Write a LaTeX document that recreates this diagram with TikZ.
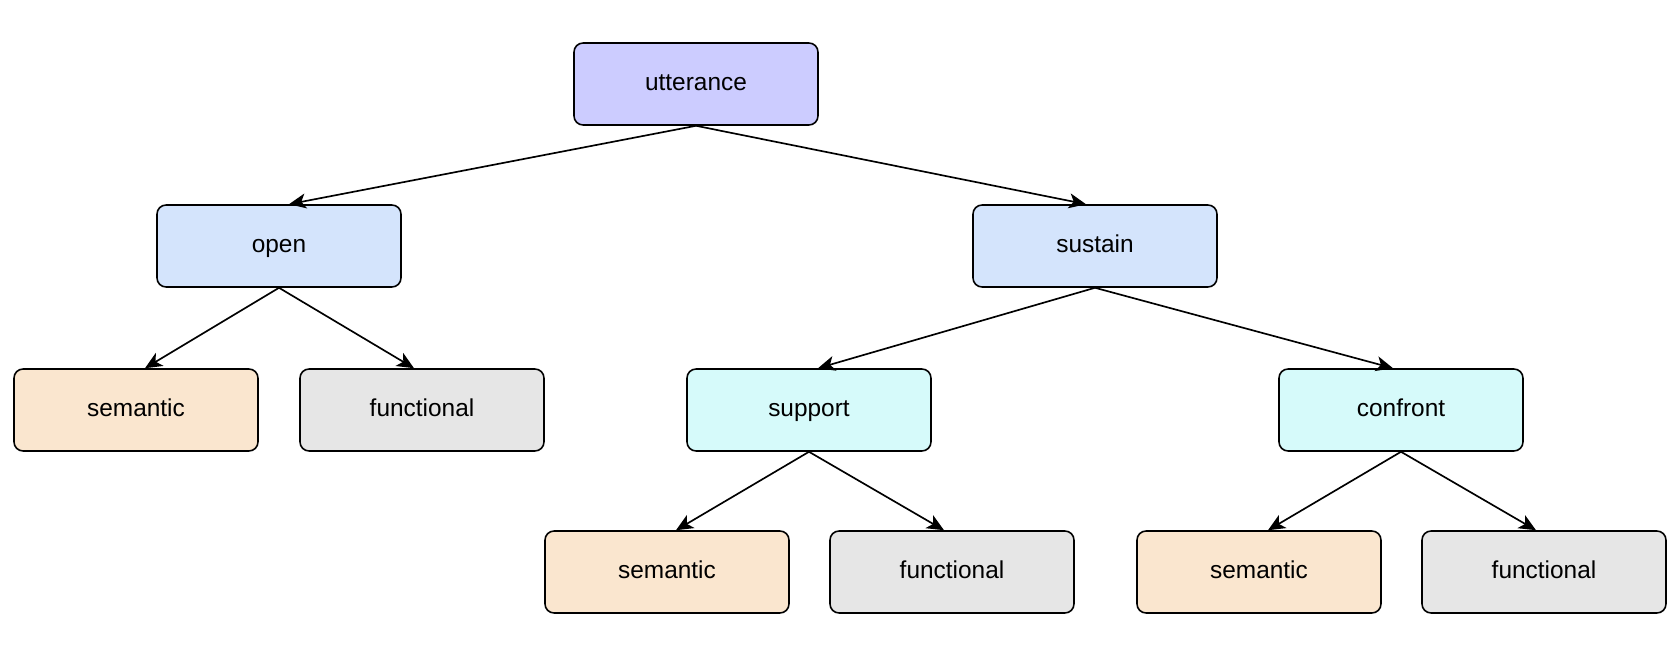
\documentclass[tikz,border=0pt]{standalone}
\usepackage{fontspec}
\setmainfont{Liberation Sans}
\usetikzlibrary{arrows.meta}
\definecolor{uttc}{HTML}{CCCCFF}
\definecolor{lvlone}{HTML}{D4E4FC}
\definecolor{lvltwo}{HTML}{D6FAFA}
\definecolor{semc}{HTML}{FAE6CF}
\definecolor{func}{HTML}{E6E6E6}
\tikzset{
  box/.style={draw=black, line width=0.9pt, rounded corners=0.18cm,
    minimum width=4.88cm, minimum height=1.64cm, inner sep=0pt,
    text height=0.96em, text depth=0.2em,
    font=\fontsize{13.9pt}{16pt}\selectfont, text=black},
  conn/.style={line width=0.95pt, -{Stealth[length=0.34cm, width=0.3cm, inset=0.09cm]}},
}
\begin{document}
\begin{tikzpicture}[x=0.02cm, y=-0.02cm]
\useasboundingbox (0,0) rectangle (1678,648);
\node[box, fill=uttc] (utt) at (696,84) {utterance};
\node[box, fill=lvlone] (open) at (279,246) {open};
\node[box, fill=lvlone] (sustain) at (1095,246) {sustain};
\node[box, fill=semc] (sem1) at (136,410) {semantic};
\node[box, fill=func] (fun1) at (422,410) {functional};
\node[box, fill=lvltwo] (support) at (809,410) {support};
\node[box, fill=lvltwo] (confront) at (1401,410) {confront};
\node[box, fill=semc] (sem2) at (667,572) {semantic};
\node[box, fill=func] (fun2) at (952,572) {functional};
\node[box, fill=semc] (sem3) at (1259,572) {semantic};
\node[box, fill=func] (fun3) at (1544,572) {functional};
\draw[conn] (utt.south) -- ([xshift=10*0.02cm]open.north);
\draw[conn] (utt.south) -- ([xshift=-9*0.02cm]sustain.north);
\draw[conn] (open.south) -- ([xshift=9*0.02cm]sem1.north);
\draw[conn] (open.south) -- ([xshift=-8*0.02cm]fun1.north);
\draw[conn] (sustain.south) -- ([xshift=9*0.02cm]support.north);
\draw[conn] (sustain.south) -- ([xshift=-8*0.02cm]confront.north);
\draw[conn] (support.south) -- ([xshift=9*0.02cm]sem2.north);
\draw[conn] (support.south) -- ([xshift=-8*0.02cm]fun2.north);
\draw[conn] (confront.south) -- ([xshift=9*0.02cm]sem3.north);
\draw[conn] (confront.south) -- ([xshift=-8*0.02cm]fun3.north);
\end{tikzpicture}
\end{document}
